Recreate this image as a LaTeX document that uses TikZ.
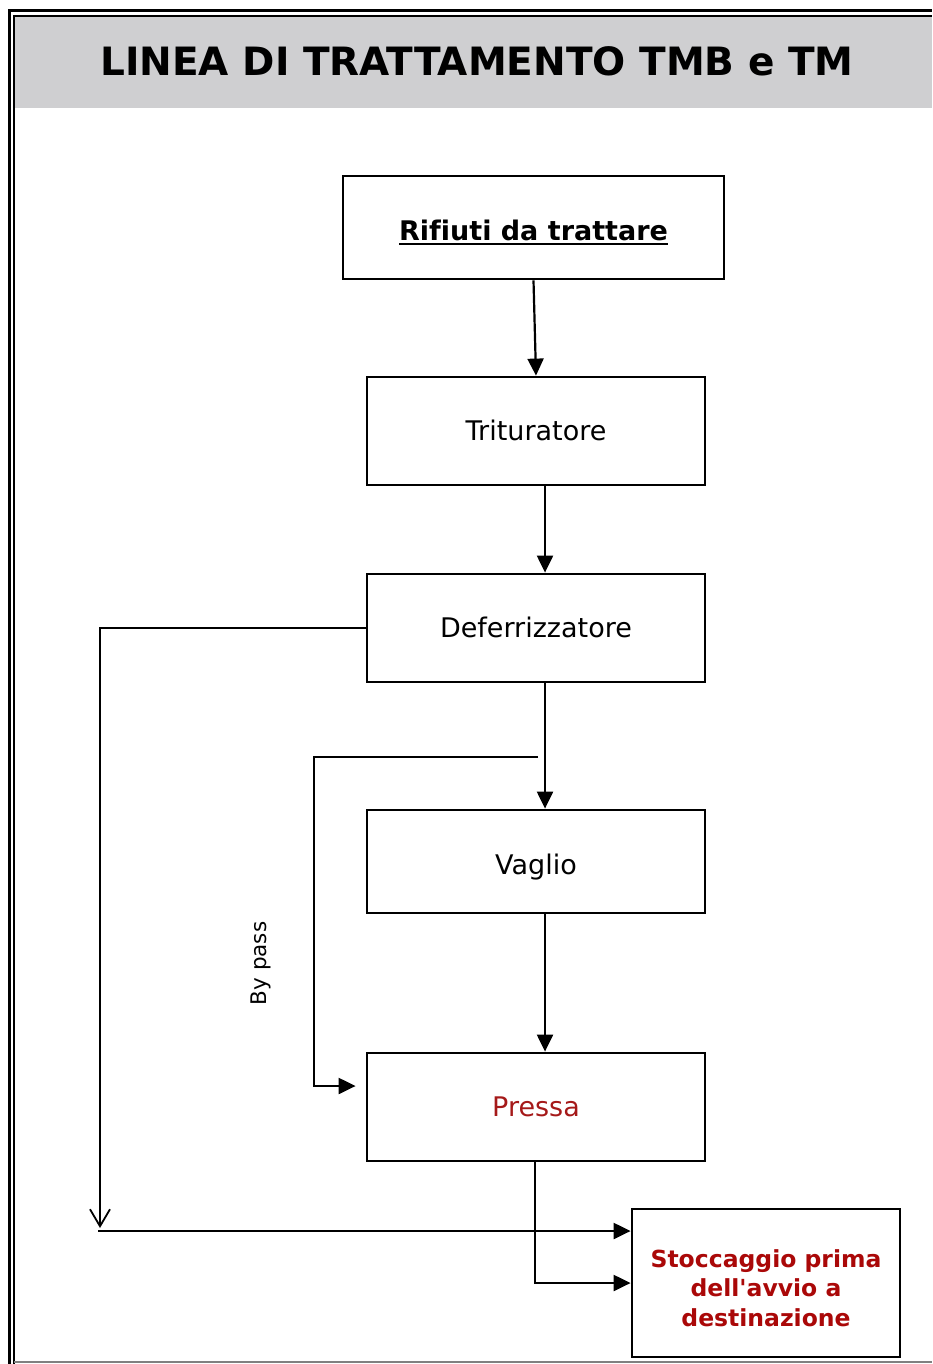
\documentclass[tikz,border=0pt]{standalone}
\usepackage{fontspec}
\setmainfont{DejaVu Sans}[Ligatures={TeXOff,NoCommon}]
\usetikzlibrary{arrows.meta}
\definecolor{bandgray}{RGB}{207,207,209}
\definecolor{darkred}{RGB}{170,8,8}
\definecolor{pressred}{RGB}{165,25,25}
\newcommand\myul[1]{\leavevmode\setbox0=\hbox{#1}\rlap{\rule[-4.5pt]{\wd0}{2.4pt}}\box0}
\tikzset{
  box/.style={draw, line width=2.8pt, inner sep=0pt, text height=19.7pt, text depth=0pt,
              font=\fontsize{27}{32}\selectfont},
  arr/.style={line width=2.2pt, -{Triangle[length=17pt,width=16pt]}},
  openarr/.style={line width=2.2pt, -{Straight Barb[length=17pt,width=20pt,line width=1.8pt]}},
}
\begin{document}
\begin{tikzpicture}[x=1pt,y=-1pt]
\useasboundingbox (0,0) rectangle (932,1364);
% frame and title band
\fill[bandgray] (15,17) rectangle (932,108);
\draw[line width=3pt] (9,1364) -- (9,11) -- (932,11);
\draw[line width=1.8pt] (14,1364) -- (14,16) -- (932,16);
\draw[gray, line width=1.5pt] (14,1362) -- (932,1362);
\node[font=\bfseries\fontsize{39}{44}\selectfont] (title) at (477,61) {LINEA DI TRATTAMENTO TMB e TM};
% boxes
\node[box, minimum width=381pt, minimum height=103pt, text height=26.7pt] (rif) at (533.5,227.5) {\bfseries\myul{Rifiuti da trattare}};
\node[box, minimum width=338pt, minimum height=108pt] (trit) at (536,431) {Trituratore};
\node[box, minimum width=338pt, minimum height=108pt] (def) at (536,628) {Deferrizzatore};
\node[box, minimum width=338pt, minimum height=103pt, text height=26.7pt] (vag) at (536,861.5) {Vaglio};
\node[box, minimum width=338pt, minimum height=108pt, text=pressred] (pre) at (536,1107) {Pressa};
\node[draw, line width=2.8pt, inner sep=0pt, minimum width=268pt, minimum height=148pt, text=darkred, align=center,
      font=\bfseries\fontsize{23.5}{29.5}\selectfont] (sto) at (766,1283) {\rule{0pt}{28pt}Stoccaggio prima\\dell'avvio a\\destinazione};
\node[rotate=90, font=\fontsize{21.5}{25}\selectfont] (bypass) at (261,963.5) {By pass};
% coordinates
\coordinate (bp) at (538,757);
\coordinate (bpc) at (314,757);
\coordinate (bpe) at (314,1086);
\coordinate (dl) at (100,628);
\coordinate (dd) at (100,1228);
\coordinate (hl) at (98,1231);
% connectors
\draw[arr] (rif.south) -- (trit.north);
\draw[arr] ([xshift=9pt]trit.south) -- ([xshift=9pt]def.north);
\draw[arr] ([xshift=9pt]def.south) -- ([xshift=9pt]vag.north);
\draw[arr] ([xshift=9pt]vag.south) -- ([xshift=9pt]pre.north);
\draw[arr, shorten >=10pt] (bp) -- (bpc) -- (bpe) -- (bpe -| pre.west);
\draw[openarr] (def.west) -- (dl) -- (dd);
\draw[arr] (hl) -- (hl -| sto.west);
\draw[arr] ([xshift=-1pt]pre.south) |- (sto.west);
\end{tikzpicture}
\end{document}
